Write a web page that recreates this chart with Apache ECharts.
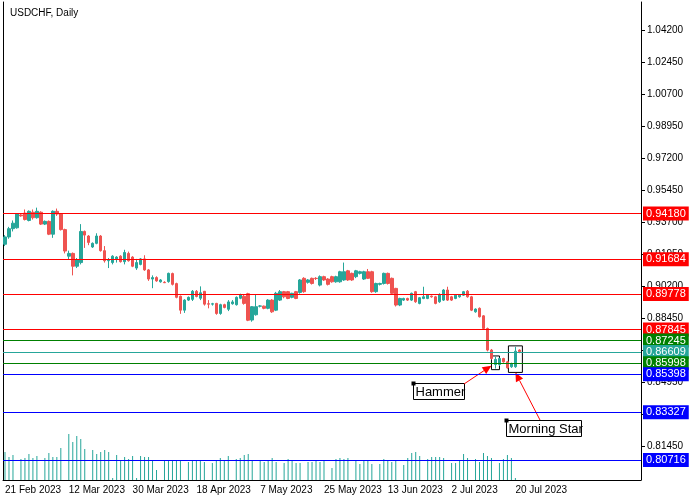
<!DOCTYPE html>
<html>
<head>
<meta charset="utf-8">
<script src="https://cdn.jsdelivr.net/npm/echarts@6/dist/echarts.min.js"></script>
<style>html,body{margin:0;padding:0;background:#fff}#chart{width:700px;height:500px}</style>
</head>
<body>
<div id="chart"></div>
<script>
// [open, close, low, high]
const candles = [
  [0.9250,0.9290,0.9240,0.9300],[0.9290,0.9335,0.9280,0.9345],[0.9335,0.9365,0.9320,0.9380],[0.9340,0.9415,0.9335,0.9420],
  [0.9410,0.9405,0.9400,0.9415],[0.9420,0.9385,0.9380,0.9440],[0.9380,0.9430,0.9375,0.9435],[0.9425,0.9395,0.9385,0.9440],
  [0.9395,0.9430,0.9390,0.9450],[0.9425,0.9360,0.9355,0.9430],[0.9360,0.9375,0.9355,0.9380],[0.9375,0.9305,0.9300,0.9380],
  [0.9305,0.9430,0.9285,0.9435],[0.9430,0.9415,0.9405,0.9445],[0.9415,0.9330,0.9325,0.9420],[0.9330,0.9213,0.9200,0.9335],
  [0.9185,0.9200,0.9165,0.9215],[0.9200,0.9130,0.9080,0.9205],[0.9130,0.9165,0.9120,0.9175],[0.9150,0.9320,0.9140,0.9360],
  [0.9320,0.9300,0.9230,0.9325],[0.9295,0.9260,0.9245,0.9300],[0.9235,0.9255,0.9230,0.9260],[0.9255,0.9295,0.9250,0.9310],
  [0.9295,0.9215,0.9210,0.9300],[0.9215,0.9160,0.9150,0.9240],[0.9160,0.9162,0.9120,0.9175],[0.9150,0.9185,0.9140,0.9190],
  [0.9170,0.9180,0.9150,0.9185],[0.9185,0.9155,0.9150,0.9190],[0.9155,0.9205,0.9140,0.9220],[0.9200,0.9160,0.9155,0.9210],
  [0.9180,0.9130,0.9125,0.9185],[0.9120,0.9150,0.9110,0.9170],[0.9140,0.9170,0.9135,0.9175],[0.9170,0.9110,0.9105,0.9190],
  [0.9110,0.9060,0.9050,0.9115],[0.9060,0.9068,0.9010,0.9080],[0.9068,0.9050,0.9045,0.9075],[0.9045,0.9055,0.9040,0.9060],
  [0.9042,0.9040,0.9038,0.9048],[0.9046,0.9091,0.9040,0.9095],[0.9090,0.9031,0.9025,0.9095],[0.9035,0.8960,0.8955,0.9040],
  [0.8966,0.8890,0.8870,0.8970],[0.8890,0.8945,0.8875,0.8950],[0.8945,0.8960,0.8940,0.8965],[0.8949,0.8993,0.8940,0.9000],
  [0.8993,0.8965,0.8960,0.9000],[0.8955,0.8985,0.8945,0.9020],[0.8993,0.8923,0.8915,0.8995],[0.8925,0.8923,0.8900,0.8945],
  [0.8923,0.8925,0.8915,0.8930],[0.8927,0.8872,0.8865,0.8930],[0.8872,0.8920,0.8865,0.8925],[0.8920,0.8905,0.8900,0.8925],
  [0.8895,0.8935,0.8885,0.8945],[0.8925,0.8935,0.8920,0.8945],[0.8920,0.8960,0.8915,0.8965],[0.8955,0.8975,0.8950,0.8980],
  [0.8966,0.8927,0.8920,0.8975],[0.8980,0.8835,0.8830,0.8985],[0.8836,0.8909,0.8827,0.8912],[0.8865,0.8909,0.8860,0.8975],
  [0.8912,0.8913,0.8905,0.8918],[0.8912,0.8900,0.8895,0.8915],[0.8900,0.8945,0.8895,0.8950],[0.8945,0.8881,0.8875,0.8950],
  [0.8890,0.8982,0.8885,0.8990],[0.8945,0.8991,0.8940,0.9000],[0.8991,0.8963,0.8955,0.8995],[0.8991,0.8954,0.8950,0.8995],
  [0.8960,0.8982,0.8955,0.8985],[0.8991,0.8954,0.8950,0.8995],[0.8987,0.9055,0.8980,0.9060],[0.9064,0.8991,0.8985,0.9070],
  [0.9042,0.9055,0.9035,0.9060],[0.9064,0.9036,0.9030,0.9068],[0.9064,0.9063,0.9055,0.9070],[0.9027,0.9073,0.9020,0.9080],
  [0.9073,0.9055,0.9050,0.9078],[0.9060,0.9031,0.9025,0.9065],[0.9073,0.9045,0.9040,0.9078],[0.9045,0.9073,0.9040,0.9078],
  [0.9045,0.9100,0.9040,0.9105],[0.9055,0.9100,0.9050,0.9150],[0.9105,0.9055,0.9050,0.9110],[0.9091,0.9055,0.9050,0.9095],
  [0.9073,0.9105,0.9065,0.9110],[0.9091,0.9100,0.9085,0.9105],[0.9060,0.9100,0.9055,0.9105],[0.9100,0.9064,0.9060,0.9115],
  [0.9100,0.8991,0.8985,0.9105],[0.8991,0.9036,0.8985,0.9040],[0.9031,0.9036,0.9025,0.9040],[0.9036,0.9091,0.9030,0.9095],
  [0.9091,0.9036,0.9030,0.9095],[0.9064,0.8982,0.8975,0.9068],[0.9009,0.8918,0.8910,0.9012],[0.8918,0.8954,0.8912,0.8958],
  [0.8945,0.8954,0.8940,0.8958],[0.8954,0.8945,0.8940,0.8958],[0.8945,0.8982,0.8940,0.8986],[0.8991,0.8936,0.8930,0.8995],
  [0.8927,0.8958,0.8922,0.8962],[0.8954,0.8963,0.8950,0.9018],[0.8954,0.8972,0.8950,0.8975],[0.8967,0.8963,0.8958,0.8970],
  [0.8963,0.8927,0.8922,0.8968],[0.8936,0.8976,0.8930,0.8982],[0.8945,0.9000,0.8940,0.9005],[0.9000,0.8945,0.8940,0.9018],
  [0.8963,0.8945,0.8940,0.8968],[0.8954,0.8972,0.8950,0.8976],[0.8963,0.8972,0.8958,0.8976],[0.8972,0.8991,0.8968,0.8995],
  [0.8994,0.8963,0.8958,0.9000],[0.8963,0.8890,0.8885,0.8968],[0.8881,0.8896,0.8876,0.8900],[0.8900,0.8854,0.8850,0.8905],
  [0.8859,0.8790,0.8785,0.8863],[0.8790,0.8672,0.8665,0.8795],[0.8672,0.8626,0.8620,0.8678],[0.8593,0.8621,0.8571,0.8636],
  [0.8593,0.8626,0.8585,0.8630],[0.8626,0.8608,0.8603,0.8630],[0.8608,0.8575,0.8570,0.8612],[0.8581,0.8599,0.8575,0.8603],
  [0.8581,0.8666,0.8575,0.8690],[0.8672,0.8663,0.8655,0.8676]
];
const volumes = [
  28,23,25,0,21,22,26,22,24,0,22,27,23,23,32,0,46,38,44,41,31,0,30,26,28,30,28,2,25,20,
  23,21,24,2,24,23,23,20,10,0,20,20,20,20,20,0,18,20,20,20,18,0,17,20,22,20,24,0,21,22,
  25,26,20,0,20,18,20,22,18,0,17,21,20,17,17,0,18,18,20,18,20,0,12,21,22,21,22,0,20,16,
  20,20,16,0,16,21,20,18,20,0,15,22,27,28,24,0,21,23,23,23,22,0,17,17,20,26,22,0,21,18,
  27,24,22,0,17,21,25,22,2
];
const dateLabels = ['21 Feb 2023','12 Mar 2023','30 Mar 2023','18 Apr 2023','7 May 2023','25 May 2023','13 Jun 2023','2 Jul 2023','20 Jul 2023'];
const priceTicks = [1.042,1.0245,1.007,0.9895,0.972,0.9545,0.937,0.9195,0.902,0.8845,0.867,0.8495,0.832,0.8145];
const levels = [
  {v:0.94180,c:'#ff0000'},{v:0.91684,c:'#ff0000'},{v:0.89778,c:'#ff0000'},{v:0.87845,c:'#ff0000'},
  {v:0.87245,c:'#008000'},{v:0.86609,c:'#26a69a'},{v:0.85998,c:'#008000'},{v:0.85398,c:'#0000ff'},
  {v:0.83327,c:'#0000ff'},{v:0.80716,c:'#0000ff'}
];
const slotCount = 160;
const categories = [];
for (let i = 0; i < slotCount; i++) categories.push(String(i));

const chart = echarts.init(document.getElementById('chart'));
const font = 'Liberation Sans';
chart.setOption({
  animation:false,
  textStyle:{fontFamily:font},
  title:{text:'USDCHF, Daily',left:5,top:3,textStyle:{fontSize:10,fontWeight:'normal',color:'#000',fontFamily:font}},
  grid:{left:3,right:59,top:2,bottom:20,outerBoundsMode:'none'},
  xAxis:{type:'category',data:categories,boundaryGap:true,
    axisLine:{lineStyle:{color:'#000'}},
    axisTick:{interval:15,alignWithLabel:true,length:4,lineStyle:{color:'#000'}},
    axisLabel:{interval:15,align:'left',margin:5,color:'#000',fontSize:10,showMinLabel:true,hideOverlap:false,
      formatter:(v,i)=>dateLabels[i/16]||''},
    splitLine:{show:false}},
  yAxis:[
    {type:'value',position:'right',min:0.79624,max:1.05732,
      axisLine:{show:true,lineStyle:{color:'#000'}},
      axisTick:{show:true,customValues:priceTicks,length:4,lineStyle:{color:'#000'}},
      axisLabel:{customValues:priceTicks,color:'#000',fontSize:10,margin:6,formatter:v=>v.toFixed(5)},
      splitLine:{show:false}},
    {type:'value',position:'left',min:0,max:478,
      axisLine:{show:true,lineStyle:{color:'#000'}},axisTick:{show:false},axisLabel:{show:false},splitLine:{show:false}}
  ],
  series:[
    {type:'bar',yAxisIndex:1,data:volumes,barWidth:1,itemStyle:{color:'#26a69a'},silent:true},
    {type:'candlestick',data:candles,barWidth:3,
      itemStyle:{color:'#26a69a',color0:'#ef5350',borderColor:'#26a69a',borderColor0:'#ef5350',borderWidth:1},
      markLine:{symbol:'none',silent:true,animation:false,z:10,precision:5,
        data:levels.map(l=>({yAxis:l.v,lineStyle:{color:l.c,type:'solid',width:1},
          label:{position:'end',distance:2,formatter:l.v.toFixed(5),color:'#fff',backgroundColor:l.c,
            padding:[2,3,1,3],fontSize:11,fontFamily:font}}))}}
  ]
});

// annotations: pattern boxes, captions and arrows
const px = (i,p) => chart.convertToPixel({xAxisIndex:0,yAxisIndex:0},[i,p]);
const hA = px(123,0.8640), hB = px(123,0.8565);
const mA = px(127,0.8695), mB = px(129,0.8550);
const hBox = {x1:hA[0]-4,y1:hA[1],x2:hA[0]+4,y2:hB[1]};
const mBox = {x1:mA[0]-3,y1:mA[1],x2:mB[0]+3,y2:mB[1]};
function arrow(x1,y1,x2,y2){
  const a = Math.atan2(y2-y1,x2-x1), L=9, W=4;
  const bx = x2-L*Math.cos(a), by = y2-L*Math.sin(a);
  return [
    {type:'line',shape:{x1,y1,x2:bx,y2:by},style:{stroke:'#ff0000',lineWidth:1}},
    {type:'polygon',shape:{points:[[x2,y2],[bx+W*Math.sin(a),by-W*Math.cos(a)],[bx-W*Math.sin(a),by+W*Math.cos(a)]]},style:{fill:'#ff0000'}}
  ];
}
function caption(x,y,txt,w){
  return [
    {type:'rect',shape:{x:x,y:y,width:w,height:16},style:{fill:'#fff',stroke:'#000',lineWidth:1}},
    {type:'text',x:x+2,y:y+2,style:{text:txt,fontSize:13,fontFamily:font,fill:'#000'}},
    {type:'rect',shape:{x:x-2,y:y-2,width:4,height:4},style:{fill:'#000'}}
  ];
}
chart.setOption({graphic:[
  {type:'rect',shape:{x:hBox.x1,y:hBox.y1,width:hBox.x2-hBox.x1,height:hBox.y2-hBox.y1},style:{fill:'none',stroke:'#000',lineWidth:1}},
  {type:'rect',shape:{x:mBox.x1,y:mBox.y1,width:mBox.x2-mBox.x1,height:mBox.y2-mBox.y1},style:{fill:'none',stroke:'#000',lineWidth:1}},
  ...caption(413.5,383.5,'Hammer',51),
  ...caption(506.5,420.5,'Morning Star',75),
  ...arrow(464,384,hBox.x1,hBox.y2-4),
  ...arrow(540,420,(mBox.x1+mBox.x2)/2,mBox.y2)
]});
</script>
</body>
</html>
